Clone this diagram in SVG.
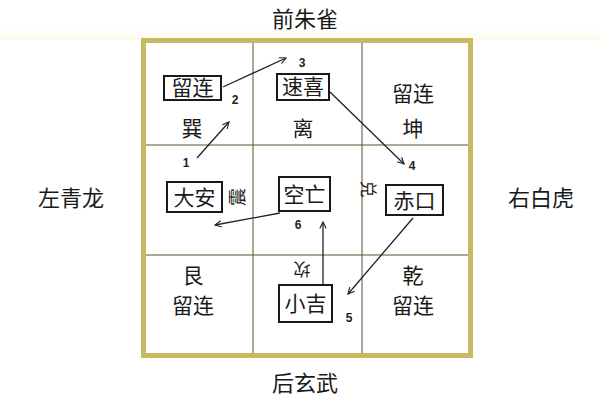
<svg xmlns="http://www.w3.org/2000/svg" width="600" height="400" viewBox="0 0 600 400">
<defs>
<marker id="ah" viewBox="0 0 10 10" refX="9" refY="5" markerWidth="8" markerHeight="8" orient="auto" markerUnits="userSpaceOnUse">
<path d="M1,1 L9,5 L1,9" fill="none" stroke="#222" stroke-width="1.4"/>
</marker>
<linearGradient id="cream" x1="0" y1="0" x2="0" y2="1">
<stop offset="0" stop-color="#ffffff"/>
<stop offset="1" stop-color="#fdf9ea"/>
</linearGradient>
</defs>
<style>
.t{font-family:"Noto Sans CJK SC","Noto Sans",sans-serif;fill:#1a1a1a;text-anchor:middle}
.c{font-size:21px}
.s{font-size:22px}
.n{font-family:"Liberation Sans",sans-serif;font-size:12px;font-weight:bold;fill:#222;text-anchor:middle}
.bx{fill:none;stroke:#1a1a1a;stroke-width:2}
.ln{fill:none;stroke:#222;stroke-width:1.3}
.g{stroke:#55552e;stroke-width:1}
</style>
<rect width="600" height="400" fill="#ffffff"/>
<rect x="0" y="29" width="600" height="11" fill="url(#cream)"/>

<g id="frame">
<rect x="143.5" y="40.5" width="327" height="315" fill="#ffffff" stroke="#c9b862" stroke-width="5"/>
<line class="g" x1="253" y1="43" x2="253" y2="353"/>
<line class="g" x1="362" y1="43" x2="362" y2="353"/>
<line class="g" x1="146" y1="145" x2="468" y2="145"/>
<line class="g" x1="146" y1="255" x2="468" y2="255"/>
</g>

<g id="labels">
<text class="t s" x="305" y="27">前朱雀</text>
<text class="t s" x="71" y="206">左青龙</text>
<text class="t s" x="541" y="206">右白虎</text>
<text class="t s" x="305" y="391">后玄武</text>
</g>

<g id="xun">
<rect class="bx" x="164" y="76" width="57" height="24"/>
<text class="t c" x="192.5" y="95">留连</text>
<text class="t c" x="192" y="136">巽</text>
</g>
<g id="li">
<rect class="bx" x="277" y="74" width="52" height="26"/>
<text class="t c" x="303" y="94">速喜</text>
<text class="t c" x="303" y="136">离</text>
</g>
<g id="kun">
<text class="t c" x="413" y="101">留连</text>
<text class="t c" x="413" y="136">坤</text>
</g>
<g id="zhen">
<rect class="bx" x="167" y="182" width="55" height="30"/>
<text class="t c" x="194.5" y="205">大安</text>
<text class="t" style="font-size:18px" transform="translate(238,197) rotate(-90)" y="6">震</text>
</g>
<g id="center">
<rect class="bx" x="279" y="177" width="51" height="34"/>
<text class="t c" x="304.5" y="202">空亡</text>
</g>
<g id="dui">
<rect class="bx" x="386" y="185" width="57" height="30"/>
<text class="t c" x="414.5" y="208">赤口</text>
<text class="t" style="font-size:17px" transform="translate(368,189) rotate(90)" y="6">兑</text>
</g>
<g id="gen">
<text class="t c" x="193" y="283">艮</text>
<text class="t c" x="193" y="313">留连</text>
</g>
<g id="kan">
<rect class="bx" x="279" y="285" width="53" height="37"/>
<text class="t c" x="305.5" y="311">小吉</text>
<text class="t" style="font-size:17px" transform="translate(302,269) rotate(180)" y="6">坎</text>
</g>
<g id="qian">
<text class="t c" x="413" y="283">乾</text>
<text class="t c" x="413" y="313">留连</text>
</g>

<g id="connectors">
<line class="ln" x1="197" y1="158" x2="229" y2="122" marker-end="url(#ah)"/>
<line class="ln" x1="223" y1="87" x2="286" y2="58" marker-end="url(#ah)"/>
<line class="ln" x1="330" y1="92" x2="404" y2="164" marker-end="url(#ah)"/>
<line class="ln" x1="413" y1="218" x2="348" y2="294" marker-end="url(#ah)"/>
<line class="ln" x1="323" y1="284" x2="323" y2="222" marker-end="url(#ah)"/>
<line class="ln" x1="280" y1="213" x2="215" y2="225" marker-end="url(#ah)"/>
</g>

<g id="numbers">
<text class="n" x="186" y="167">1</text>
<text class="n" x="235" y="104">2</text>
<text class="n" x="302" y="67">3</text>
<text class="n" x="412" y="170">4</text>
<text class="n" x="349" y="322">5</text>
<text class="n" x="298" y="229">6</text>
</g>
</svg>
